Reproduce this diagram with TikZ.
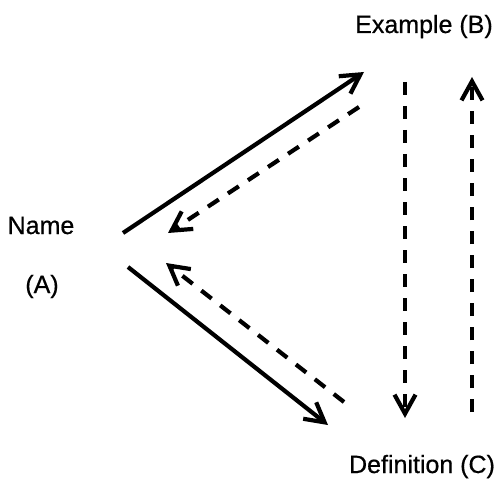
\documentclass[tikz,border=0pt]{standalone}
\usepackage{fontspec}
\setmainfont{Liberation Sans}
\newfontfamily\lblfont[FakeBold=0.6]{Liberation Sans}
\usetikzlibrary{arrows.meta}
\begin{document}
\begin{tikzpicture}[x=1pt,y=-1pt,
  lbl/.style={font=\lblfont\fontsize{25}{29}\selectfont, inner sep=0pt, anchor=base},
  link/.style={line width=4.2pt, -{Straight Barb[length=19pt,width=21pt]}},
  dashlink/.style={link, dash pattern=on 13pt off 11pt}]
\useasboundingbox (0,0) rectangle (500,481);

% labels
\node[lbl] (name) at (41,234) {Name};
\node[lbl] (nameA) at (42,293) {(A)};
\node[lbl] (exB) at (424,33) {Example (B)};
\node[lbl] (defC) at (422,473) {Definition (C)};

% end points of the arrows
\coordinate (aUp) at (123,233);
\coordinate (bIn) at (364,72);
\coordinate (bOut) at (359,107);
\coordinate (aInUp) at (168,233);
\coordinate (aDown) at (128,267);
\coordinate (cIn) at (328,425);
\coordinate (cOut) at (344,402);
\coordinate (aInDown) at (166,263);
\coordinate (bDownTop) at (405,82);
\coordinate (cDownEnd) at (405,418);
\coordinate (cUpStart) at (472,412);
\coordinate (bUpEnd) at (472,77);

% A <-> B
\draw[link] (aUp) -- (bIn);
\draw[dashlink] (bOut) -- (aInUp);
% A <-> C
\draw[link] (aDown) -- (cIn);
\draw[dashlink] (cOut) -- (aInDown);
% B <-> C
\draw[dashlink] (bDownTop) -- (cDownEnd);
\draw[dashlink] (cUpStart) -- (bUpEnd);
\end{tikzpicture}
\end{document}
